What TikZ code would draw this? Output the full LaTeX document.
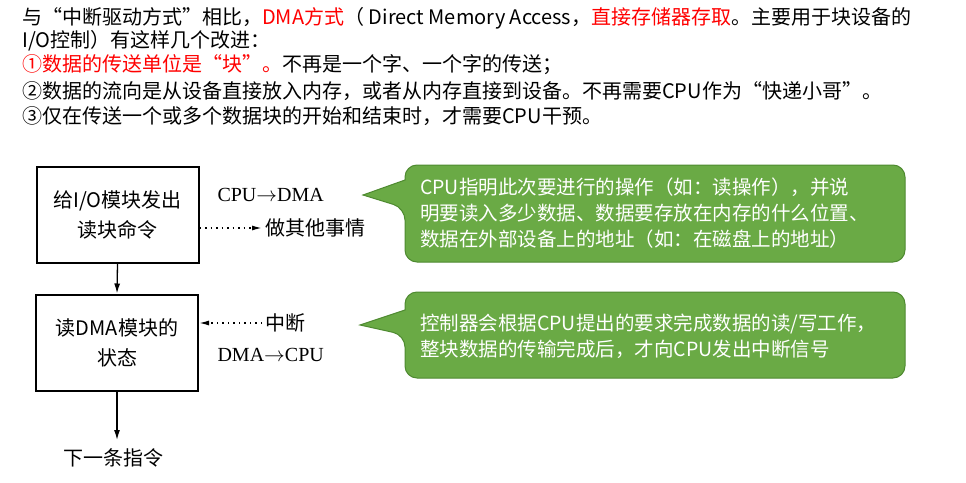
\documentclass[tikz,border=0pt]{standalone}
\usepackage{fontspec}
\setmainfont{Liberation Serif}
\newfontfamily\cjk{Noto Sans CJK SC}
\usetikzlibrary{arrows.meta}
\definecolor{cgreen}{HTML}{6AAA45}
\definecolor{cborder}{HTML}{4E8A30}
\definecolor{cred}{HTML}{FF0000}
\begin{document}
\begin{tikzpicture}[x=1pt,y=-1pt,
  box/.style={draw,line width=2pt,minimum width=162pt,minimum height=96pt,align=center,font=\fontsize{20}{30}\selectfont\cjk},
  lbl/.style={font=\fontsize{20}{22}\selectfont\cjk,anchor=west},
  top/.style={font=\fontsize{20}{22}\selectfont\cjk,anchor=west,inner sep=0},
  call/.style={fill=cgreen,draw=cborder,line width=1pt,rounded corners=12pt},
  ctext/.style={font=\fontsize{19.5}{26}\selectfont\cjk,text=white,align=left,anchor=west,inner sep=0},
  arr/.style={-{Latex[length=10pt,width=6pt]},line width=1.3pt},
  darr/.style={-{Latex[length=10pt,width=5pt]},line width=1.5pt,dash pattern=on 1.5pt off 4pt}]
\useasboundingbox (0,0) rectangle (966,482);
\node[top] (t1) at (22,18) {与“中断驱动方式”相比，\textcolor{cred}{DMA方式}（ Direct Memory Access，\textcolor{cred}{直接存储器存取}。主要用于块设备的};
\node[top] (t2) at (22,41) {I/O控制）有这样几个改进：};
\node[top,text=cred] (t3) at (22,65) {①数据的传送单位是“块”。\textcolor{black}{不再是一个字、一个字的传送；}};
\node[top] (t4) at (22,91) {②数据的流向是从设备直接放入内存，或者从内存直接到设备。不再需要CPU作为“快递小哥”。};
\node[top] (t5) at (22,116) {③仅在传送一个或多个数据块的开始和结束时，才需要CPU干预。};

\node[box] (b1) at (117.5,215) {给I/O模块发出\\读块命令};
\node[box] (b2) at (117,342.5) {读DMA模块的\\状态};
\node[font=\fontsize{20}{22}\selectfont\cjk] (next) at (113,458) {下一条指令};
\draw[arr] (b1.south) -- (b2.north);
\draw[arr] (b2.south) -- (117,440);

\node[lbl,font=\fontsize{20}{22}\selectfont] (cd) at (214,195) {CPU$\rightarrow$DMA};
\node[lbl] (other) at (262,228) {做其他事情};
\node[lbl] (intr) at (262,323) {中断};
\node[lbl,font=\fontsize{20}{22}\selectfont] (dc) at (214,355) {DMA$\rightarrow$CPU};
\draw[darr] (b1.east |- other) -- (other.west);
\draw[darr] (intr.west) -- (b2.east |- intr);

\draw[call] (405,208) [sharp corners] -- (363,195) -- (405,180) [rounded corners=12pt] -- (405,165) -- (905,165) -- (905,262) -- (405,262) -- cycle;
\node[ctext] (c1) at (420,213) {CPU指明此次要进行的操作（如：读操作），并说\\明要读入多少数据、数据要存放在内存的什么位置、\\数据在外部设备上的地址（如：在磁盘上的地址）};
\draw[call] (405,335) [sharp corners] -- (360,325) -- (405,310) [rounded corners=12pt] -- (405,292) -- (905,292) -- (905,378) -- (405,378) -- cycle;
\node[ctext] (c2) at (420,336) {控制器会根据CPU提出的要求完成数据的读/写工作，\\整块数据的传输完成后，才向CPU发出中断信号};
\end{tikzpicture}
\end{document}
